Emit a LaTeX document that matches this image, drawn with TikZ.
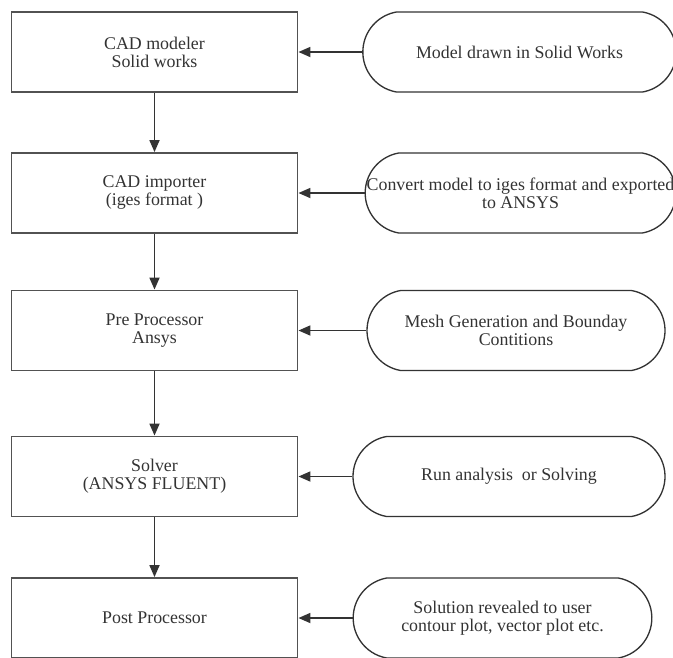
\documentclass[tikz,border=0pt]{standalone}
\usepackage{fontspec}
\setmainfont{Liberation Serif}
\usetikzlibrary{arrows.meta, shapes.misc}

\begin{document}
\begin{tikzpicture}[x=0.75pt, y=-0.75pt,
    stage/.style={draw=black!68, line width=1.4pt, minimum width=214.5pt,
        minimum height=60pt, align=center, text=black!80,
        font=\fontsize{13.4}{13.5}\selectfont},
    task/.style={rounded rectangle, rounded rectangle arc length=160,
        draw=black!80, line width=1pt, minimum height=60pt, inner sep=0pt,
        align=center, text=black!80, font=\fontsize{13.4}{13.5}\selectfont},
    flow/.style={draw=black!80, line width=1.3pt,
        -{Triangle[length=9pt, width=7.5pt]}}]
    \useasboundingbox (0,0) rectangle (673,657);
    \clip (0,0) rectangle (673,657);

    % Main stages
    \node[stage] (b1) at (154.5, 52) {CAD modeler\\Solid works};
    \node[stage] (b2) at (154.5, 193) {CAD importer\\(iges format )};
    \node[stage] (b3) at (154.5, 330.5) {Pre Processor\\Ansys};
    \node[stage] (b4) at (154.5, 476.5) {Solver\\(ANSYS FLUENT)};
    \node[stage] (b5) at (154.5, 618) {Post Processor};

    % Descriptions
    \node[task, minimum width=235pt] (t1) at (519.5, 52) {Model drawn in Solid Works};
    \node[task, minimum width=233pt,
        label={[align=center, text=black!80, font=\fontsize{13.4}{13.5}\selectfont]center:Convert model to iges format and exported\\to ANSYS}]
        (t2) at (520.5, 193) {};
    \node[task, minimum width=223.5pt] (t3) at (516, 330.5) {Mesh Generation and Bounday\\Contitions};
    \node[task, minimum width=234pt] (t4) at (509, 476.5) {Run analysis\ \ or Solving};
    \node[task, minimum width=224pt] (t5) at (502.5, 618) {Solution revealed to user\\contour plot, vector plot etc.};

    % Flow down
    \draw[flow] (b1) -- (b2);
    \draw[flow] (b2) -- (b3);
    \draw[flow] (b3) -- (b4);
    \draw[flow] (b4) -- (b5);

    % Inputs
    \draw[flow] (t1) -- (b1);
    \draw[flow] (t2) -- (b2);
    \draw[flow] (t3) -- (b3);
    \draw[flow] (t4) -- (b4);
    \draw[flow] (t5) -- (b5);
\end{tikzpicture}
\end{document}
